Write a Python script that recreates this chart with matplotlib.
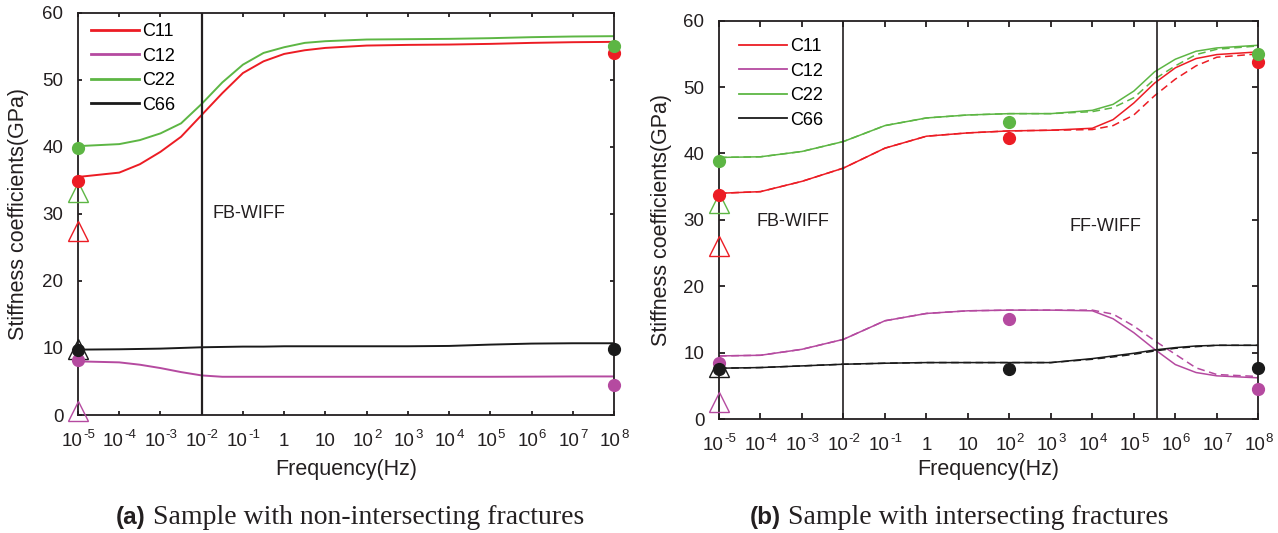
import numpy as np
import matplotlib
matplotlib.use("Agg")
import matplotlib.pyplot as plt
from matplotlib.lines import Line2D

plt.rcParams['font.family'] = ['Liberation Sans', 'DejaVu Sans']

# ---------------- data ----------------
series_names = ["C11", "C12", "C22", "C66"]
colors = {"C11": "#ec1c24", "C12": "#b54aa0", "C22": "#5db644", "C66": "#1a1a1a"}

tick_exponents = [-5, -4, -3, -2, -1, 0, 1, 2, 3, 4, 5, 6, 7, 8]
tick_bases = ["10", "10", "10", "10", "10", "1", "10", "10", "10", "10", "10", "10", "10", "10"]
tick_sups = ["-5", "-4", "-3", "-2", "-1", "", "", "2", "3", "4", "5", "6", "7", "8"]
y_ticks = [0, 10, 20, 30, 40, 50, 60]

# (a) non-intersecting fractures
exp_a = [-5, -4, -3.5, -3, -2.5, -2, -1.5, -1, -0.5, 0, 0.5, 1, 2, 3, 4, 5, 6, 7, 8]
C11_a = [35.5, 36.15, 37.4, 39.25, 41.5, 44.75, 48.0, 51.0, 52.75, 53.85, 54.4, 54.75, 55.1, 55.2, 55.25, 55.35, 55.5, 55.6, 55.65]
C12_a = [8.0, 7.85, 7.5, 7.0, 6.4, 5.9, 5.7, 5.7, 5.7, 5.7, 5.7, 5.7, 5.7, 5.7, 5.7, 5.7, 5.72, 5.75, 5.75]
C22_a = [40.1, 40.4, 41.0, 42.0, 43.5, 46.4, 49.6, 52.25, 54.0, 54.85, 55.5, 55.75, 56.0, 56.05, 56.1, 56.2, 56.35, 56.45, 56.5]
C66_a = [9.75, 9.8, 9.85, 9.9, 10.0, 10.1, 10.15, 10.2, 10.2, 10.25, 10.25, 10.25, 10.25, 10.25, 10.3, 10.5, 10.65, 10.7, 10.7]

dot_exp_a = [-5, 8]
dots_a = {"C11": [34.9, 54.0], "C12": [8.25, 4.45], "C22": [39.75, 55.0], "C66": [9.7, 9.8]}
tri_a = {"C11": 27.5, "C12": 0.65, "C22": 33.2, "C66": 9.9}
vlines_a = [1e-2]

# (b) intersecting fractures
exp_b = [-5, -4, -3, -2, -1, 0, 1, 2, 3, 4, 4.5, 5, 5.5, 6, 6.5, 7, 8]
C11_b = [34.0, 34.25, 35.8, 37.8, 40.8, 42.6, 43.1, 43.4, 43.5, 43.8, 45.1, 47.6, 50.6, 52.9, 54.3, 54.9, 55.3]
C12_b = [9.5, 9.6, 10.5, 12.0, 14.8, 15.9, 16.3, 16.4, 16.4, 16.3, 15.1, 13.0, 10.5, 8.2, 7.0, 6.5, 6.2]
C22_b = [39.4, 39.5, 40.3, 41.8, 44.2, 45.35, 45.8, 46.0, 46.0, 46.5, 47.4, 49.4, 52.3, 54.2, 55.4, 55.9, 56.3]
C66_b = [7.65, 7.75, 8.0, 8.25, 8.4, 8.5, 8.5, 8.5, 8.5, 9.1, 9.5, 9.9, 10.4, 10.75, 11.0, 11.1, 11.1]

C11_b_dash = [34.0, 34.25, 35.8, 37.8, 40.8, 42.6, 43.1, 43.4, 43.5, 43.6, 44.2, 45.8, 48.7, 51.2, 53.2, 54.5, 55.0]
C12_b_dash = [9.5, 9.6, 10.5, 12.0, 14.8, 15.9, 16.3, 16.4, 16.4, 16.4, 15.8, 14.0, 11.8, 9.75, 7.7, 6.7, 6.4]
C22_b_dash = [39.4, 39.5, 40.3, 41.8, 44.2, 45.35, 45.8, 46.0, 46.0, 46.3, 46.9, 48.4, 51.2, 53.2, 54.9, 55.7, 56.2]
C66_b_dash = [7.65, 7.75, 8.0, 8.25, 8.4, 8.5, 8.5, 8.5, 8.5, 9.0, 9.35, 9.75, 10.25, 10.65, 10.9, 11.1, 11.1]

dot_exp_b = [-5, 2, 8]
dots_b = {"C11": [33.7, 42.3, 53.8], "C12": [8.4, 15.1, 4.5], "C22": [38.9, 44.8, 55.0], "C66": [7.5, 7.6, 7.7]}
tri_b = {"C11": 26.0, "C12": 2.55, "C22": 32.5, "C66": 7.9}
vlines_b = [1e-2, 3.7e5]

texts_a = [("FB-WIFF", 10**-1.74, 30.0)]
texts_b = [("FB-WIFF", 10**-4.1, 29.8), ("FF-WIFF", 10**3.45, 29.0)]

captions = [("(a)", " Sample with non-intersecting fractures"), ("(b)", " Sample with intersecting fractures")]

# ---------------- plotting ----------------
W, H = 1278, 533
fig = plt.figure(figsize=(W / 100, H / 100), dpi=100)
ax_a = fig.add_axes([78 / W, 1 - 415 / H, 536 / W, 402.3 / H])
ax_b = fig.add_axes([719 / W, 1 - 419 / H, 539.3 / W, 398.3 / H])

INK = '#231f20'
CW = {'-': 0.333}


def sup_width(s, fs):
    return sum(CW.get(c, 0.556) for c in s) * fs


def style(ax, lw, ticklen, xlabel_y, ylabel_x):
    ax.set_xscale('log')
    ax.set_xlim(1e-5, 1e8)
    ax.set_ylim(0, 60)
    ax.set_yticks(y_ticks)
    ax.set_xticks([10.0 ** e for e in tick_exponents])
    ax.set_xticklabels([])
    ax.xaxis.set_minor_locator(matplotlib.ticker.NullLocator())
    ax.tick_params(direction='in', top=True, right=True, length=ticklen, width=lw,
                   labelsize=13.5, pad=10.5, colors=INK)
    for s in ax.spines.values():
        s.set_linewidth(lw)
        s.set_color(INK)
    # x tick labels: "10" with hyphenated superscript exponent
    fs, fs_sup = 13.5, 9.5
    for e, base, sup in zip(tick_exponents, tick_bases, tick_sups):
        dx = -sup_width(sup, fs_sup) / 2 if sup else 0
        t = ax.annotate(base, xy=(10.0 ** e, 0), xycoords=('data', 'axes fraction'),
                        xytext=(dx, -13.3), textcoords='offset points', ha='center', va='top',
                        fontsize=fs, color=INK, annotation_clip=False)
        if sup:
            ax.annotate(sup, xy=(1, 1), xycoords=t, xytext=(0.4, 3.0), textcoords='offset points',
                        ha='left', va='top', fontsize=fs_sup, color=INK, annotation_clip=False)
    ax.set_xlabel("Frequency(Hz)", fontsize=15.5, color=INK)
    ax.xaxis.label.set_va('center')
    ax.xaxis.set_label_coords(0.5, xlabel_y)
    ax.set_ylabel("Stiffness coefficients(GPa)", fontsize=15.5, color=INK)
    ax.yaxis.label.set_va('center')
    ax.yaxis.set_label_coords(ylabel_x, 0.5)


def add_legend(ax, lw, anchor):
    ax.legend(handles=[Line2D([], [], color=colors[n], lw=lw) for n in series_names],
              labels=series_names, loc='upper left', frameon=False, fontsize=13,
              handlelength=2.65, handletextpad=0.2, labelspacing=0.42,
              borderpad=0, borderaxespad=0, bbox_to_anchor=anchor,
              bbox_transform=fig.transFigure)


# Panel (a)
curves_a = {"C11": C11_a, "C12": C12_a, "C22": C22_a, "C66": C66_a}
x_a = [10.0 ** e for e in exp_a]
for name in series_names:
    ax_a.plot(x_a, curves_a[name], color=colors[name], lw=1.4)
for v in vlines_a:
    ax_a.axvline(v, color=INK, lw=1.6)
for name in series_names:
    ax_a.plot([1e-5], [tri_a[name]], marker='^', ms=14.5, mfc='none', mec=colors[name], mew=1.0,
              ls='none', clip_on=False, zorder=5)
for name in series_names:
    ax_a.plot([10.0 ** e for e in dot_exp_a], dots_a[name], marker='o', ms=8.5, color=colors[name],
              ls='none', clip_on=False, zorder=6)
for t, x, y in texts_a:
    ax_a.text(x, y, t, fontsize=13, va='center', ha='left', color=INK)
style(ax_a, 1.3, 3.0, (415 - 470) / 402.3, (19 - 78) / 536)
add_legend(ax_a, 2.0, (91 / W, 1 - 23 / H))

# Panel (b)
curves_b = {"C11": C11_b, "C12": C12_b, "C22": C22_b, "C66": C66_b}
curves_b_dash = {"C11": C11_b_dash, "C12": C12_b_dash, "C22": C22_b_dash, "C66": C66_b_dash}
x_b = [10.0 ** e for e in exp_b]
for name in series_names:
    ax_b.plot(x_b, curves_b_dash[name], color=colors[name], lw=1.1, ls=(0, (5, 3)))
    ax_b.plot(x_b, curves_b[name], color=colors[name], lw=1.1)
for v in vlines_b:
    ax_b.axvline(v, color=INK, lw=1.2)
for name in series_names:
    ax_b.plot([1e-5], [tri_b[name]], marker='^', ms=14.5, mfc='none', mec=colors[name], mew=1.0,
              ls='none', clip_on=False, zorder=5)
for name in series_names:
    ax_b.plot([10.0 ** e for e in dot_exp_b], dots_b[name], marker='o', ms=8.5, color=colors[name],
              ls='none', clip_on=False, zorder=6)
for t, x, y in texts_b:
    ax_b.text(x, y, t, fontsize=13, va='center', ha='left', color=INK)
style(ax_b, 1.3, 4.5, (419 - 470) / 398.3, (661 - 719) / 539.3)
add_legend(ax_b, 1.3, (739 / W, 1 - 38 / H))

# Captions: bold sans label followed by serif text on the same baseline
cap_x = [116, 750]
cap_base = 1 - 524 / H
renderer = fig.canvas.get_renderer()
for (bold, rest), cx in zip(captions, cap_x):
    t1 = fig.text(cx / W, cap_base, bold, fontsize=17.5, fontweight='bold',
                  family='Liberation Sans', va='baseline', ha='left', color=INK)
    bb = t1.get_window_extent(renderer)
    fig.text(bb.x1 / W, cap_base, rest, fontsize=20, family='Liberation Serif',
             va='baseline', ha='left', color=INK)

fig.savefig("out.png", dpi=100)
